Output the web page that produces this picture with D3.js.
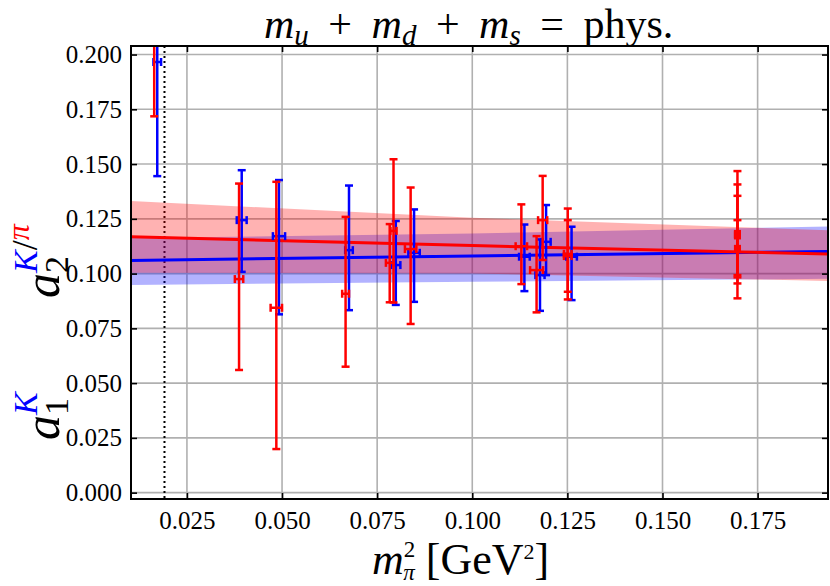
<!DOCTYPE html>
<html>
<head>
<meta charset="utf-8">
<script src="https://cdn.jsdelivr.net/npm/d3@7"></script>
<style>
  body { margin: 0; background: #fff; }
</style>
</head>
<body>
<div id="chart"></div>
<script>
// pion points (red): m_pi^2, value, lower err, upper err, x err
const piX    = [0.0164, 0.0387, 0.0485, 0.0667, 0.0783, 0.0793, 0.0838, 0.1129, 0.1169, 0.1185, 0.1251, 0.1251, 0.1697, 0.1697, 0.1697, 0.1697];
const piY    = [0.235,  0.0975, 0.0844, 0.0908, 0.1049, 0.1195, 0.1112, 0.1125, 0.1016, 0.1244, 0.1090, 0.1080, 0.1178, 0.1181, 0.1174, 0.1113];
const piErrLo = [0.0632, 0.0415, 0.0645, 0.0333, 0.0180, 0.0327, 0.0342, 0.0173, 0.0193, 0.0182, 0.0208, 0.0163, 0.0291, 0.0226, 0.0181, 0.0130];
const piErrHi = [0.0300, 0.0436, 0.0575, 0.0351, 0.0177, 0.0327, 0.0281, 0.0191, 0.0155, 0.0202, 0.0207, 0.0164, 0.0290, 0.0226, 0.0181, 0.0131];
const piErrX = [0.0008, 0.0011, 0.0015, 0.0009, 0.0010, 0.0008, 0.0015, 0.0015, 0.0017, 0.0012, 0.0010, 0.0010, 0.0006, 0.0006, 0.0006, 0.0006];

// kaon points (blue)
const kX     = [0.0172, 0.0394, 0.0492, 0.0676, 0.0799, 0.0847, 0.1137, 0.1178, 0.1194, 0.1261];
const kY     = [0.1966, 0.1244, 0.1171, 0.1107, 0.1039, 0.1095, 0.1077, 0.0993, 0.1145, 0.1077];
const kErrLo = [0.0521, 0.0236, 0.0357, 0.0274, 0.0182, 0.0224, 0.0157, 0.0163, 0.0152, 0.0198];
const kErrHi = [0.0600, 0.0228, 0.0256, 0.0295, 0.0201, 0.0198, 0.0147, 0.0163, 0.0168, 0.0137];
const kErrX  = [0.0010, 0.0013, 0.0016, 0.0010, 0.0012, 0.0015, 0.0014, 0.0012, 0.0012, 0.0014];

// chiral fits with error bands
const fitX  = [0.0103, 0.1000, 0.1935];
const piFit = [0.1168, 0.1128, 0.1089];
const piLo  = [0.1004, 0.1001, 0.0966];
const piHi  = [0.1331, 0.1255, 0.1198];
const kFit  = [0.1060, 0.1080, 0.1101];
const kLo   = [0.0948, 0.0963, 0.0976];
const kHi   = [0.1162, 0.1183, 0.1215];

const physPoint = 0.0191; // dotted line

const xTicks = [0.025, 0.050, 0.075, 0.100, 0.125, 0.150, 0.175];
const yTicks = [0.000, 0.025, 0.050, 0.075, 0.100, 0.125, 0.150, 0.175, 0.200];

const SERIF = "'Liberation Serif', 'DejaVu Serif', serif";
const W = 830, H = 586;
const margin = {top: 46, right: 2, bottom: 87, left: 131};
const width = W - margin.left - margin.right;
const height = H - margin.top - margin.bottom;

const x = d3.scaleLinear().domain([0.0103, 0.1935]).range([0, width]);
const y = d3.scaleLinear().domain([-0.0029, 0.2039]).range([height, 0]);

const svg = d3.select("#chart").append("svg")
  .attr("width", W).attr("height", H)
  .style("font-family", SERIF);

svg.append("defs").append("clipPath").attr("id", "clip")
  .append("rect").attr("width", width).attr("height", height);

const g = svg.append("g").attr("transform", `translate(${margin.left},${margin.top})`);

// grid
g.append("g").selectAll("line").data(xTicks).join("line")
  .attr("x1", d => x(d)).attr("x2", d => x(d))
  .attr("y1", 0).attr("y2", height)
  .attr("stroke", "#b0b0b0").attr("stroke-width", 1.6);
g.append("g").selectAll("line").data(yTicks).join("line")
  .attr("y1", d => y(d)).attr("y2", d => y(d))
  .attr("x1", 0).attr("x2", width)
  .attr("stroke", "#b0b0b0").attr("stroke-width", 1.6);

const plot = g.append("g").attr("clip-path", "url(#clip)");

// physical point
plot.append("line")
  .attr("x1", x(physPoint)).attr("x2", x(physPoint))
  .attr("y1", 0).attr("y2", height)
  .attr("stroke", "#000").attr("stroke-width", 2)
  .attr("stroke-dasharray", "2,3");

function band(lo, hi, color) {
  const area = d3.area()
    .x((d, i) => x(fitX[i]))
    .y0((d, i) => y(lo[i]))
    .y1((d, i) => y(hi[i]));
  plot.append("path").datum(fitX).attr("d", area)
    .attr("fill", color).attr("fill-opacity", 0.3);
}
function fitLine(vals, color) {
  const line = d3.line().x((d, i) => x(fitX[i])).y((d, i) => y(vals[i]));
  plot.append("path").datum(fitX).attr("d", line)
    .attr("fill", "none").attr("stroke", color).attr("stroke-width", 3);
}

band(kLo, kHi, "#0000ff");
band(piLo, piHi, "#ff0000");
fitLine(kFit, "#0000ff");
fitLine(piFit, "#ff0000");

function errorbars(xs, ys, lo, hi, ex, color) {
  const grp = plot.append("g").attr("stroke", color).attr("stroke-width", 2.5);
  const cap = 4;
  xs.forEach((xv, i) => {
    const cx = x(xv), cy = y(ys[i]);
    const yTop = y(ys[i] + hi[i]), yBot = y(ys[i] - lo[i]);
    const xL = x(xv - ex[i]), xR = x(xv + ex[i]);
    grp.append("line").attr("x1", cx).attr("x2", cx).attr("y1", yTop).attr("y2", yBot);
    grp.append("line").attr("x1", cx - cap).attr("x2", cx + cap).attr("y1", yTop).attr("y2", yTop);
    grp.append("line").attr("x1", cx - cap).attr("x2", cx + cap).attr("y1", yBot).attr("y2", yBot);
    grp.append("line").attr("x1", xL).attr("x2", xR).attr("y1", cy).attr("y2", cy);
    grp.append("line").attr("x1", xL).attr("x2", xL).attr("y1", cy - cap).attr("y2", cy + cap);
    grp.append("line").attr("x1", xR).attr("x2", xR).attr("y1", cy - cap).attr("y2", cy + cap);
  });
}

errorbars(kX, kY, kErrLo, kErrHi, kErrX, "#0000ff");
errorbars(piX, piY, piErrLo, piErrHi, piErrX, "#ff0000");

// axes with inward ticks on all sides
const tickLen = 6;
const xAxisB = g.append("g").attr("transform", `translate(0,${height})`)
  .call(d3.axisBottom(x).tickValues(xTicks).tickFormat(d3.format(".3f")).tickSizeInner(-tickLen).tickSizeOuter(0).tickPadding(12));
const xAxisT = g.append("g")
  .call(d3.axisTop(x).tickValues(xTicks).tickFormat("").tickSizeInner(-tickLen).tickSizeOuter(0));
const yAxisL = g.append("g")
  .call(d3.axisLeft(y).tickValues(yTicks).tickFormat(d3.format(".3f")).tickSizeInner(-tickLen).tickSizeOuter(0).tickPadding(9));
const yAxisR = g.append("g").attr("transform", `translate(${width},0)`)
  .call(d3.axisRight(y).tickValues(yTicks).tickFormat("").tickSizeInner(-tickLen).tickSizeOuter(0));

[xAxisB, xAxisT, yAxisL, yAxisR].forEach(a => {
  a.attr("font-family", SERIF);
  a.select(".domain").remove();
  a.selectAll(".tick line").attr("stroke", "#000").attr("stroke-width", 1.6);
  a.selectAll("text").style("font-family", SERIF).attr("font-size", 25).attr("fill", "#000");
});

g.append("rect").attr("width", width).attr("height", height)
  .attr("fill", "none").attr("stroke", "#000").attr("stroke-width", 2);

// title
const title = svg.append("text").attr("x", 264).attr("y", 38)
  .attr("font-size", 42).style("font-family", SERIF);
const op = 9; // extra room around + and =, like math spacing
title.append("tspan").attr("font-style", "italic").text("m");
title.append("tspan").attr("font-style", "italic").attr("font-size", 29).attr("dy", 7).text("u");
title.append("tspan").attr("dx", op).attr("dy", -7).text(" + ");
title.append("tspan").attr("dx", op).attr("font-style", "italic").text("m");
title.append("tspan").attr("font-style", "italic").attr("font-size", 29).attr("dy", 7).text("d");
title.append("tspan").attr("dx", op).attr("dy", -7).text(" + ");
title.append("tspan").attr("dx", op).attr("font-style", "italic").text("m");
title.append("tspan").attr("font-style", "italic").attr("font-size", 29).attr("dy", 7).text("s");
title.append("tspan").attr("dx", op).attr("dy", -7).text(" = ");
title.append("tspan").attr("dx", op).text("phys.");

// x label
const xl = svg.append("text").attr("x", 372).attr("y", 574)
  .attr("font-size", 44).style("font-family", SERIF);
xl.append("tspan").attr("font-style", "italic").text("m");
xl.append("tspan").attr("font-size", 23).attr("dy", -17).text("2");
xl.append("tspan").attr("font-style", "italic").attr("font-size", 23).attr("dx", -12).attr("dy", 23).text("π");
xl.append("tspan").attr("dy", -6).text(" [GeV");
xl.append("tspan").attr("font-size", 22).attr("dy", -15).text("2");
xl.append("tspan").attr("dy", 15).text("]");

// y label: a_1^K (lower) and a_2^{K/pi} (upper)
const yl1 = svg.append("text").attr("transform", "translate(59,440) rotate(-90)")
  .attr("font-size", 50).style("font-family", SERIF);
yl1.append("tspan").attr("font-style", "italic").text("a");
yl1.append("tspan").attr("font-size", 34).attr("dy", 9).text("1");
yl1.append("tspan").attr("font-style", "italic").attr("font-size", 34).attr("fill", "#0000ff").attr("dx", -17).attr("dy", -31).text("K");

const yl2 = svg.append("text").attr("transform", "translate(59,298) rotate(-90)")
  .attr("font-size", 50).style("font-family", SERIF);
yl2.append("tspan").attr("font-style", "italic").text("a");
yl2.append("tspan").attr("font-size", 34).attr("dy", 9).text("2");
yl2.append("tspan").attr("font-style", "italic").attr("font-size", 34).attr("fill", "#0000ff").attr("dx", -17).attr("dy", -31).text("K");
yl2.append("tspan").attr("font-size", 36).attr("dy", 0).text("/");
yl2.append("tspan").attr("font-style", "italic").attr("font-size", 32).attr("fill", "#ff0000").attr("dy", -8).text("π");
</script>
</body>
</html>
